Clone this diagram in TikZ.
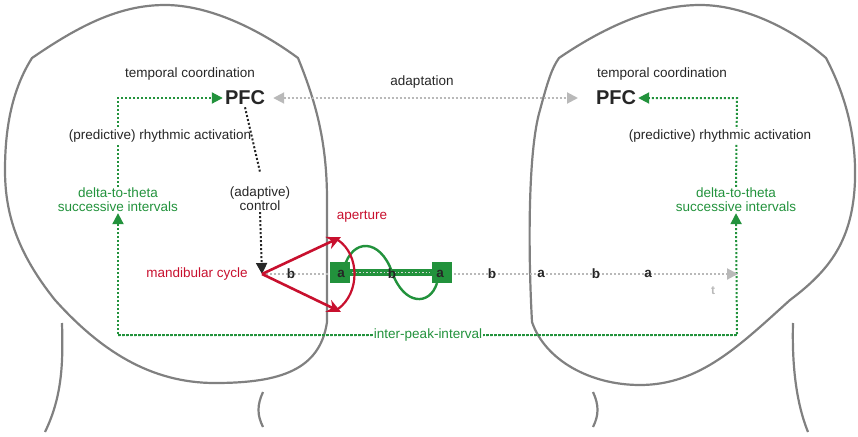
\documentclass[tikz,border=0pt]{standalone}
\usepackage{fontspec}
\setmainfont{Liberation Sans}
\usetikzlibrary{arrows.meta}
\definecolor{hg}{RGB}{128,128,128}
\definecolor{lg}{RGB}{185,185,185}
\definecolor{gr}{RGB}{34,146,60}
\definecolor{rd}{RGB}{200,16,46}
\begin{document}
\begin{tikzpicture}[x=1pt,y=-1pt,
  head/.style={draw=hg,line width=2.2pt,line join=round},
  txt/.style={font=\fontsize{13.5}{16}\selectfont,text=black!85,inner sep=1pt},
  gtxt/.style={txt,text=gr,align=center},
  pfc/.style={font=\fontsize{20}{22}\selectfont\bfseries,text=black!85,inner sep=2pt},
  gdot/.style={draw=gr,line width=2pt,dotted},
  gtip/.style={-{Triangle[length=11pt,width=11pt]}},
  lab/.style={font=\fontsize{13.5}{16}\selectfont\bfseries,text=black!85,inner sep=1pt}]
\useasboundingbox (0,0) rectangle (858,436);
% heads
\draw[head] (32,58) .. controls (80,25) and (120,5) .. (165,5) .. controls (210,5) and (260,30) .. (298,58)
  .. controls (315,100) and (327,140) .. (327,200) -- (327,322) .. controls (320,370) and (280,383) .. (215,383)
  .. controls (150,383) and (100,350) .. (55,300) .. controls (15,250) and (5,210) .. (5,170) .. controls (5,120) and (15,85) .. (32,58) -- cycle;
\draw[head] (559,58) .. controls (600,30) and (650,5) .. (700,5) .. controls (750,5) and (800,35) .. (826,58)
  .. controls (848,100) and (856,140) .. (855,180) .. controls (853,240) and (830,270) .. (790,300)
  .. controls (740,345) and (700,385) .. (640,385) .. controls (590,385) and (545,360) .. (532,322)
  .. controls (528,250) and (528,150) .. (540,110) .. controls (548,80) and (552,68) .. (559,58) -- cycle;
\draw[head] (62,323) .. controls (63,360) and (63,395) .. (45,432);
\draw[head] (263,392) .. controls (257,405) and (257,415) .. (263,427);
\draw[head] (793,323) .. controls (792,360) and (795,400) .. (808,432);
\draw[head] (593,392) .. controls (599,405) and (599,415) .. (593,427);
% nodes
\node[txt] (tcL) at (190,74) {temporal coordination};
\node[txt] (tcR) at (662,74) {temporal coordination};
\node[pfc] (pfcL) at (245,98) {PFC};
\node[pfc] (pfcR) at (616,98) {PFC};
\node[txt] (ad) at (422,82) {adaptation};
\node[gtxt] (dtL) at (118,200) {delta-to-theta\\[-2pt]successive intervals};
\node[gtxt] (dtR) at (736,200) {delta-to-theta\\[-2pt]successive intervals};
\node[txt,align=center] (ac) at (260,199) {(adaptive)\\[-2pt]control};
\node[txt,text=rd] (mc) at (197,274) {mandibular cycle};
\node[txt,text=rd] (ap) at (362,217) {aperture};
\node[txt,text=lg,font=\fontsize{12}{14}\selectfont\bfseries] (t) at (713,291) {t};
\coordinate (o) at (262,274);
\coordinate (tend) at (738,274);
\coordinate (blL) at (118,335);
\coordinate (blR) at (737,335);
\coordinate (tlL) at (118,98);
\coordinate (tlR) at (737,98);
% adaptation arrow
\draw[draw=lg,line width=2pt,dotted,{Triangle[length=11pt,width=11pt]}-{Triangle[length=11pt,width=11pt]}] (pfcL.east) ++(6,0) -- (578,98);
% green loops
\draw[gdot,gtip] (dtL.north) -- (tlL) -- (pfcL.west);
\draw[gdot,gtip] (dtR.north) -- (tlR) -- (pfcR.east);
\draw[gdot,gtip] (blR) -- (blL) -- (dtL.south);
\draw[gdot,gtip] (blL) -- (blR) -- (dtR.south);
\node[txt,fill=white] (raL) at (160,136) {(predictive) rhythmic activation};
\node[txt,fill=white] (raR) at (720,136) {(predictive) rhythmic activation};
\node[gtxt,fill=white] (ipi) at (428,335) {inter-peak-interval};
% control
\draw[draw=black!85,line width=2pt,dotted] (pfcL.south) -- (260,172);
\draw[draw=black!85,line width=2pt,dotted,-{Triangle[length=11pt,width=11pt]}] (ac.south) -- (o);
% timeline
\draw[draw=lg,line width=2pt,dotted,-{Triangle[length=11pt,width=11pt]}] (o) -- (tend);
\fill[gr] (330,269) rectangle (452,276);
\fill[gr] (330,262) rectangle (350,283);
\fill[gr] (432,262) rectangle (452,283);
\draw[draw=white!70!gray,line width=1.5pt,dotted] (352,272.5) -- (430,272.5);
\draw[gr,line width=2.4pt] (344,268) .. controls (352,238) and (380,238) .. (392,272) .. controls (404,306) and (430,306) .. (437,283);
\foreach \x/\l [count=\i] in {291/b,341/a,392/b,440/a,492/b,541/a,596/b,648/a}
  \node[lab] (L\i) at (\x,274) {\l};
% red
\draw[rd,line width=2.6pt,-{Stealth[length=14pt,width=13pt]}] (o) -- (341,237);
\draw[rd,line width=2.6pt,-{Stealth[length=14pt,width=13pt]}] (o) -- (341,312);
\draw[rd,line width=2.2pt] (338,240) .. controls (360,255) and (360,293) .. (338,309);
\end{tikzpicture}
\end{document}
